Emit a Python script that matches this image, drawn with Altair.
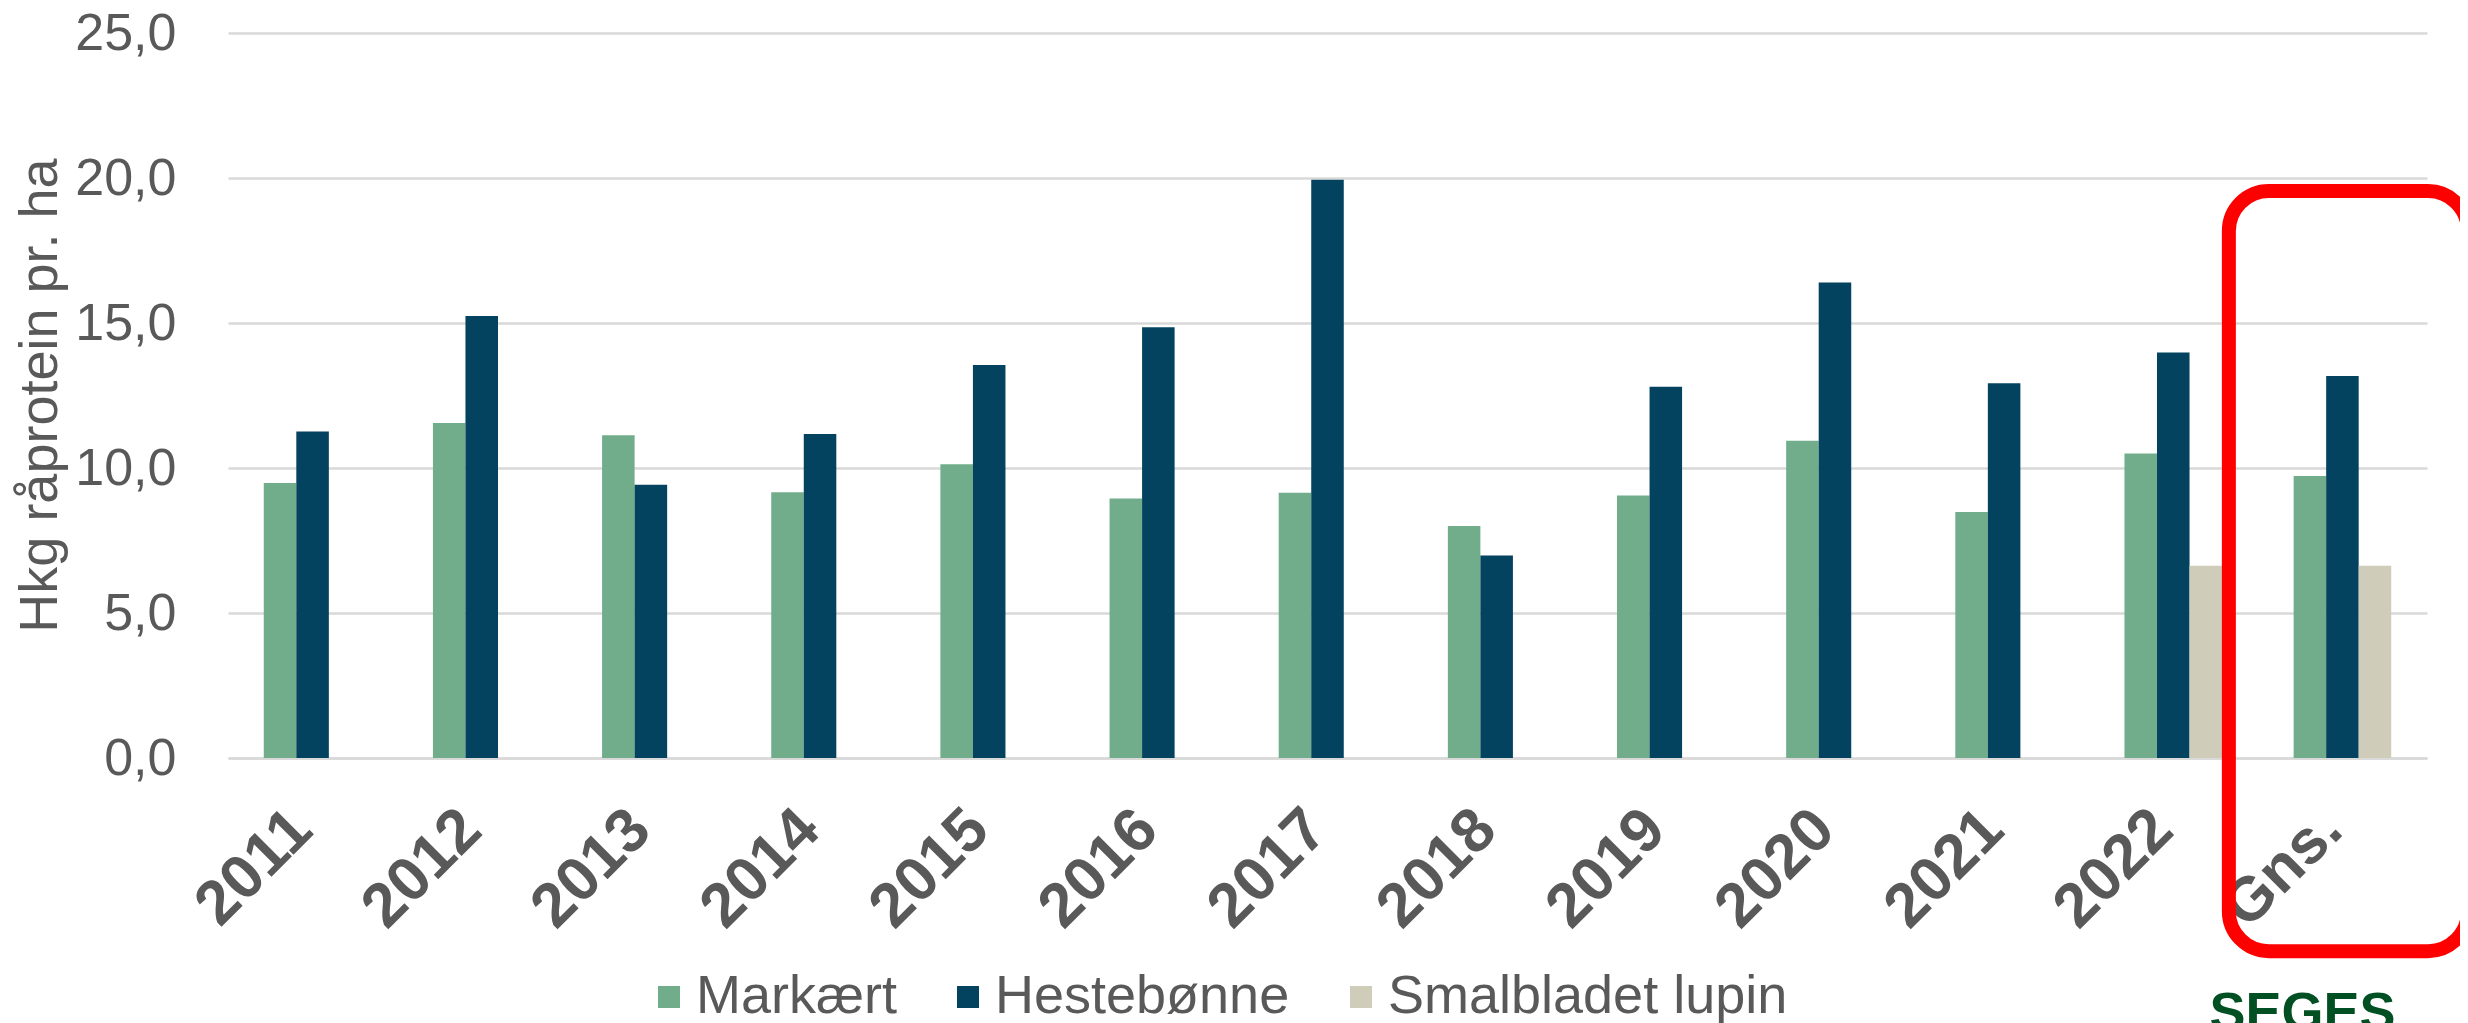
import altair as alt
import pandas as pd

categories = ["2011", "2012", "2013", "2014", "2015", "2016", "2017",
              "2018", "2019", "2020", "2021", "2022", "Gns."]
markaert = [9.48, 11.55, 11.13, 9.16, 10.13, 8.95, 9.15, 8.00, 9.05, 10.94, 8.48, 10.50, 9.72]
hestebonne = [11.26, 15.24, 9.42, 11.17, 13.55, 14.85, 19.94, 6.98, 12.80, 16.40, 12.92, 13.98, 13.17]
lupin_categories = ["2022", "Gns."]
lupin = [6.63, 6.63]

series = ["Markært", "Hestebønne", "Smalbladet lupin"]
colors = ["#71AD8B", "#03435F", "#CFCCBA"]
y_ticks = [0, 5, 10, 15, 20, 25]

rows = []
for c, v in zip(categories, markaert):
    rows.append({"kategori": c, "serie": series[0], "værdi": v})
for c, v in zip(categories, hestebonne):
    rows.append({"kategori": c, "serie": series[1], "værdi": v})
for c, v in zip(lupin_categories, lupin):
    rows.append({"kategori": c, "serie": series[2], "værdi": v})
df = pd.DataFrame(rows)

FONT = "Liberation Sans"
GREY = "#595959"

x_scale = alt.Scale(domain=categories, paddingInner=0.423, paddingOuter=0.2115)
y_scale = alt.Scale(domain=[0, 25], nice=False, zero=True)

bars = alt.Chart(df).mark_bar().encode(
    x=alt.X("kategori:N", scale=x_scale, sort=categories,
            axis=alt.Axis(title=None, labelAngle=-45, labelAlign="right",
                          labelBaseline="top", labelFontSize=62,
                          labelFontWeight="bold", labelFont=FONT,
                          labelColor=GREY, ticks=False, domain=True,
                          domainColor="#D9D9D9", domainWidth=2.5,
                          labelPadding=40, labelOffset=-32)),
    xOffset=alt.XOffset("serie:N", sort=series,
                        scale=alt.Scale(domain=series, paddingInner=0, paddingOuter=0)),
    y=alt.Y("værdi:Q", scale=y_scale,
            axis=alt.Axis(values=y_ticks,
                          labelExpr="replace(format(datum.value, '.1f'), '.', ',')",
                          labelFontSize=52, labelFont=FONT, labelColor=GREY,
                          ticks=False, domain=False, gridColor="#D9D9D9",
                          gridWidth=2.5, labelPadding=52,
                          title="Hkg råprotein pr. ha", titleFontSize=54,
                          titleFont=FONT, titleFontWeight="normal",
                          titleColor=GREY, titleX=-188, titleY=362,
                          titleAngle=-90, titleAlign="center",
                          titleBaseline="middle")),
    color=alt.Color("serie:N", sort=series,
                    scale=alt.Scale(domain=series, range=colors),
                    legend=alt.Legend(orient="none", legendX=414, legendY=937,
                                      direction="horizontal", title=None,
                                      symbolType="square", symbolSize=484,
                                      symbolStrokeWidth=0,
                                      labelFontSize=54, labelFont=FONT,
                                      labelColor=GREY, labelOffset=0,
                                      labelLimit=0,
                                      columnPadding=44, padding=0)),
)

highlight = alt.Chart(pd.DataFrame({"a": [0]})).mark_bar(
    fill="transparent", stroke="#FF0000", strokeWidth=14, cornerRadius=40,
    width={"band": 2.45}, xOffset=6,
).encode(
    x=alt.XDatum("Gns.", type="nominal"),
    y=alt.YDatum(19.55, type="quantitative"),
    y2=alt.Y2Datum(-6.66),
)

logo = alt.Chart(pd.DataFrame({"a": [0]})).mark_text(
    text="SEGES", font=FONT, fontSize=54, fontWeight="bold", color="#005023",
    baseline="alphabetic", align="center", dx=-40,
).encode(
    x=alt.XDatum("Gns.", type="nominal"),
    y=alt.YDatum(-9.38, type="quantitative"),
)

chart = alt.layer(bars, highlight, logo).properties(
    width=2199, height=725,
    autosize=alt.AutoSizeParams(type="none"),
    padding={"left": 220, "top": 25, "right": 33, "bottom": 265},
    background="white",
).configure_view(stroke=None)

chart.save("out.html", embed_options={"renderer": "svg", "actions": False})
